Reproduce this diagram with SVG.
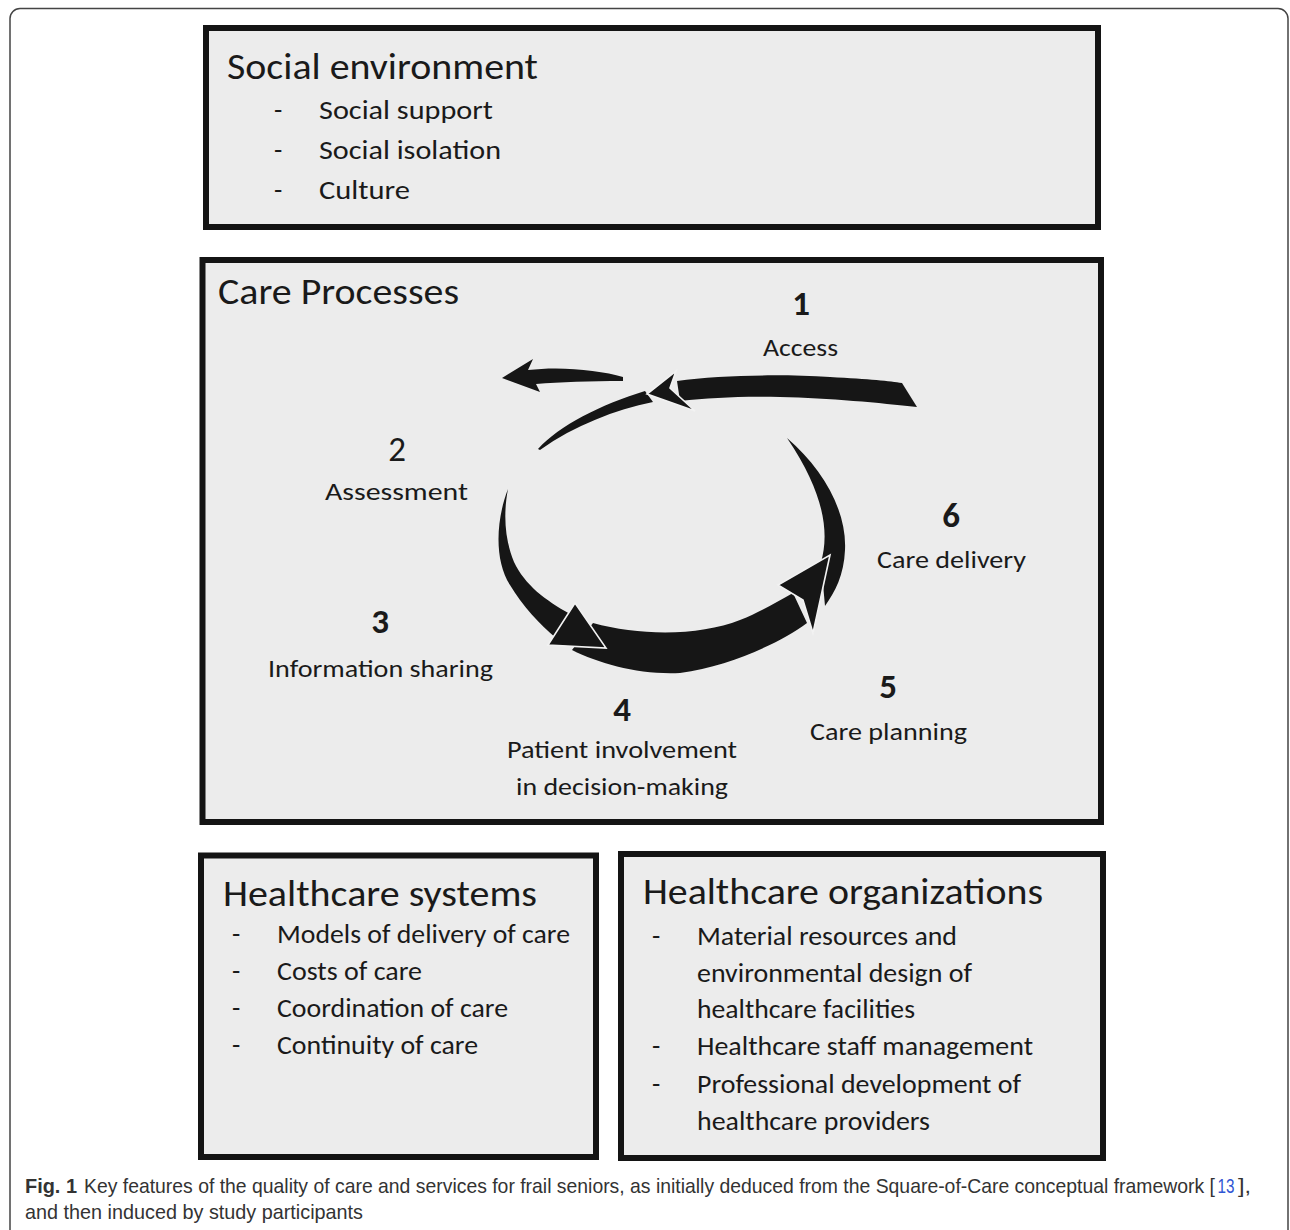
<svg xmlns="http://www.w3.org/2000/svg" width="1290" height="1230" viewBox="0 0 1290 1230">
<style>
.box{fill:#ececec;stroke:#141414;stroke-width:6}
.t{font-family:Carlito,Lato,"Open Sans",sans-serif;fill:#1a1a1a}
.title{font-size:37px}
.item{font-size:27px;font-weight:300}
.lab{font-size:25px;text-anchor:middle}
.num{font-size:35px;font-weight:bold;text-anchor:middle}
.arc{fill:#161616}
.head{fill:#161616;stroke:#f2f2f2;stroke-width:1.6;stroke-linejoin:miter}
.cap{font-family:"Liberation Sans",Arial,sans-serif;font-size:20px;font-weight:normal;fill:#333}
</style>
<rect x="0" y="0" width="1290" height="1230" fill="#ffffff"/>
<rect x="10" y="8.5" width="1278" height="1260" rx="10" fill="#ffffff" stroke="#444" stroke-width="1.5"/>

<g id="social-environment">
<rect class="box" x="206" y="28" width="892" height="199"/>
<text class="t title" x="227" y="79" textLength="311" lengthAdjust="spacingAndGlyphs">Social environment</text>
<text class="t item" x="274" y="119">-</text>
<text class="t item" x="319" y="119" textLength="174" lengthAdjust="spacingAndGlyphs">Social support</text>
<text class="t item" x="274" y="159">-</text>
<text class="t item" x="319" y="159" textLength="182" lengthAdjust="spacingAndGlyphs">Social isolation</text>
<text class="t item" x="274" y="199">-</text>
<text class="t item" x="319" y="199" textLength="91" lengthAdjust="spacingAndGlyphs">Culture</text>
</g>

<g id="care-processes">
<rect class="box" x="202.5" y="260" width="898.5" height="562"/>
<text class="t title" x="218" y="304" textLength="241" lengthAdjust="spacingAndGlyphs">Care Processes</text>
</g>

<g id="connectors">
<path class="arc" d="M502,378 L533,359 L528,370 C 560,366 600,370 623,377 L623,381 C 590,381 560,382 536,384 L540,392 Z"/>
<path class="arc" d="M538,449 C 560,425 600,405 645,391 L 653,402 C 615,410 575,425 540,450 Z"/>
<path class="arc" d="M 677,381 C 720,375 780,374 830,377 C 870,379 890,381 902,383 L 917,407 C 880,403 830,398 780,397 C 740,396 710,398 680,401 Z"/>
<path class="head" d="M647,394 L676,371 L670,388 L695,411 Z"/>
<path class="arc" d="M508,489 C 496,520 494,560 510,585 C 522,605 540,625 556,638 L 570,614 C 545,600 525,585 514,562 C 505,540 503,515 508,489 Z"/>
<path class="arc" d="M787,438 C 822,468 847,510 845,550 C 844,575 835,592 825,606 L 821,562 C 829,535 826,495 787,438 Z"/>
<path class="arc" d="M572,650 L 593,623 C 640,636 700,636 740,620 C 760,612 775,603 793,593 L 807,623 C 780,643 730,666 680,673 C 640,675 600,664 572,650 Z"/>
<path class="head" d="M575,603 L606,648 L548,645 Z"/>
<path class="head" d="M778,585 L830,555 L813,633 L803,600 Z"/>
</g>

<g id="step-1">
<text class="t num" x="801" y="315">1</text>
<text class="t lab" x="800.5" y="356" textLength="75" lengthAdjust="spacingAndGlyphs">Access</text>
</g>
<g id="step-2">
<text class="t num" x="397" y="461" style="font-weight:normal">2</text>
<text class="t lab" x="396.5" y="500" textLength="143" lengthAdjust="spacingAndGlyphs">Assessment</text>
</g>
<g id="step-3">
<text class="t num" x="380" y="633">3</text>
<text class="t lab" x="380.5" y="677" textLength="225" lengthAdjust="spacingAndGlyphs">Information sharing</text>
</g>
<g id="step-4">
<text class="t num" x="622" y="721">4</text>
<text class="t lab" x="622" y="758" textLength="230" lengthAdjust="spacingAndGlyphs">Patient involvement</text>
<text class="t lab" x="622" y="795" textLength="212" lengthAdjust="spacingAndGlyphs">in decision-making</text>
</g>
<g id="step-5">
<text class="t num" x="888" y="698">5</text>
<text class="t lab" x="888.5" y="740" textLength="157" lengthAdjust="spacingAndGlyphs">Care planning</text>
</g>
<g id="step-6">
<text class="t num" x="951" y="527">6</text>
<text class="t lab" x="951.5" y="568" textLength="149" lengthAdjust="spacingAndGlyphs">Care delivery</text>
</g>

<g id="healthcare-systems">
<rect class="box" x="201" y="855.5" width="395" height="301.5"/>
<text class="t title" x="223" y="906" textLength="314" lengthAdjust="spacingAndGlyphs">Healthcare systems</text>
<text class="t item" x="232" y="943">-</text>
<text class="t item" x="277" y="943" textLength="293" lengthAdjust="spacingAndGlyphs">Models of delivery of care</text>
<text class="t item" x="232" y="980">-</text>
<text class="t item" x="277" y="980" textLength="145" lengthAdjust="spacingAndGlyphs">Costs of care</text>
<text class="t item" x="232" y="1017">-</text>
<text class="t item" x="277" y="1017" textLength="231" lengthAdjust="spacingAndGlyphs">Coordination of care</text>
<text class="t item" x="232" y="1054">-</text>
<text class="t item" x="277" y="1054" textLength="201" lengthAdjust="spacingAndGlyphs">Continuity of care</text>
</g>

<g id="healthcare-organizations">
<rect class="box" x="621" y="854" width="482" height="304"/>
<text class="t title" x="643" y="904" textLength="400" lengthAdjust="spacingAndGlyphs">Healthcare organizations</text>
<text class="t item" x="652" y="945">-</text>
<text class="t item" x="697" y="945" textLength="260" lengthAdjust="spacingAndGlyphs">Material resources and</text>
<text class="t item" x="697" y="982" textLength="275" lengthAdjust="spacingAndGlyphs">environmental design of</text>
<text class="t item" x="697" y="1018" textLength="218" lengthAdjust="spacingAndGlyphs">healthcare facilities</text>
<text class="t item" x="652" y="1055">-</text>
<text class="t item" x="697" y="1055" textLength="336" lengthAdjust="spacingAndGlyphs">Healthcare staff management</text>
<text class="t item" x="652" y="1093">-</text>
<text class="t item" x="697" y="1093" textLength="324" lengthAdjust="spacingAndGlyphs">Professional development of</text>
<text class="t item" x="697" y="1130" textLength="233" lengthAdjust="spacingAndGlyphs">healthcare providers</text>
</g>

<g id="caption" transform="scale(0.88,1)">
<text class="cap" x="28.41" y="1193" style="font-weight:bold" textLength="59.1" lengthAdjust="spacingAndGlyphs">Fig. 1</text>
<text class="cap" x="95.45" y="1193" textLength="1285.2" lengthAdjust="spacingAndGlyphs">Key features of the quality of care and services for frail seniors, as initially deduced from the Square-of-Care conceptual framework [</text>
<text class="cap" x="1383.5" y="1193" style="fill:#2f55d4" textLength="19.3" lengthAdjust="spacingAndGlyphs">13</text>
<text class="cap" x="1406.8" y="1193" textLength="14.8" lengthAdjust="spacingAndGlyphs">],</text>
<text class="cap" x="28.41" y="1219" textLength="384.1" lengthAdjust="spacingAndGlyphs">and then induced by study participants</text>
</g>
</svg>
